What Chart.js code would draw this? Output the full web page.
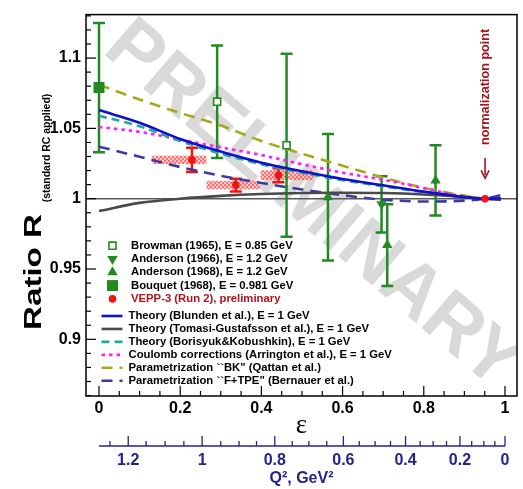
<!DOCTYPE html>
<html>
<head>
<meta charset="utf-8">
<script src="https://cdn.jsdelivr.net/npm/chart.js@4.4.1/dist/chart.umd.min.js"></script>
<style>
  html, body { margin: 0; padding: 0; background: #fff; }
</style>
</head>
<body>
<canvas id="ratio_chart" width="523" height="489"></canvas>
<script>
// ticks
var xTicks = [0, 0.2, 0.4, 0.6, 0.8, 1];
var yTicks = [0.9, 0.95, 1, 1.05, 1.1];
var q2Labels = ["1.2", "1", "0.8", "0.6", "0.4", "0.2", "0"];
var q2Eps = [0.072, 0.254, 0.433, 0.602, 0.755, 0.889, 1.0];
var q2MinorEps = [0.027, 0.116, 0.163, 0.209, 0.300, 0.345, 0.388, 0.476, 0.517, 0.561,
                  0.641, 0.680, 0.718, 0.791, 0.823, 0.856, 0.918, 0.948, 0.975];

// measurements
var browmanEps = [0.291, 0.462];
var browmanR = [1.069, 1.038];
var browmanErr = [0.040, 0.065];

var anderson66Eps = [0.696];
var anderson66R = [0.996];
var anderson66Err = [0.020];

var anderson68Eps = [0.564, 0.710, 0.829];
var anderson68R = [1.001, 0.967, 1.013];
var anderson68Err = [0.045, 0.029, 0.025];

var bouquetEps = [0];
var bouquetR = [1.079];
var bouquetErr = [0.046];

var veppEps = [0.229, 0.337, 0.442, 0.951];
var veppR = [1.0276, 1.0097, 1.0167, 1.0];
var veppErr = [0.0087, 0.0045, 0.005, 0];
var veppSysLo = [0.131, 0.265, 0.398];
var veppSysHi = [0.265, 0.397, 0.528];
var veppSys = [0.003, 0.003, 0.0035];

// theory curves
var curveEps = [0, 0.1, 0.2, 0.3, 0.4, 0.5, 0.6, 0.7, 0.8, 0.9, 0.95, 0.99];
var blunden  = [1.063, 1.054, 1.0425, 1.0335, 1.0255, 1.0195, 1.014, 1.0095, 1.005, 1.0012, 1.0, 1.0003];
var tomasi   = [0.9912, 0.997, 1.0, 1.002, 1.0033, 1.004, 1.0042, 1.004, 1.003, 1.0012, 1.0, 0.9993];
var borisyuk = [1.059, 1.0515, 1.041, 1.032, 1.0245, 1.0185, 1.0132, 1.0088, 1.0046, 1.0011, 1.0, 0.9995];
var coulomb  = [1.051, 1.0475, 1.042, 1.0365, 1.031, 1.0245, 1.0185, 1.0135, 1.0075, 1.0015, 1.0, 0.9995];
var bkQattan = [1.081, 1.0705, 1.061, 1.052, 1.041, 1.032, 1.0235, 1.015, 1.0077, 1.0022, 1.0, 0.9993];
var fTpe     = [1.037, 1.0298, 1.0225, 1.0163, 1.0112, 1.0065, 1.0025, 0.9993, 0.998, 0.9986, 1.0, 1.0025];

var GREEN = "#218a21";
var RED = "#f01414";
var NAVY = "#23238c";
var FONT = '"Liberation Sans", Arial, sans-serif';

function pts(xs, ys) {
  return xs.map(function (x, i) { return {x: x, y: ys[i]}; });
}

// hatched fill for the systematic boxes
var pc = document.createElement("canvas");
pc.width = 4; pc.height = 4;
var pctx = pc.getContext("2d");
pctx.fillStyle = "rgba(255,170,170,0.6)";
pctx.fillRect(0, 0, 4, 4);
pctx.fillStyle = "rgba(255,90,90,0.8)";
pctx.fillRect(0, 0, 2, 2);
pctx.fillRect(2, 2, 2, 2);

function marker(label, xs, ys, errs, style, extra) {
  var ds = {
    label: label,
    data: pts(xs, ys),
    errors: errs,
    showLine: false,
    pointStyle: style,
    pointRadius: 6,
    pointBackgroundColor: GREEN,
    pointBorderColor: GREEN,
    pointBorderWidth: 0,
    errColor: GREEN
  };
  for (var k in extra) ds[k] = extra[k];
  return ds;
}

function curve(label, ys, color, dash) {
  return {
    label: label,
    data: pts(curveEps, ys),
    showLine: true,
    borderColor: color,
    borderWidth: 2.6,
    borderDash: dash,
    pointRadius: 0,
    cubicInterpolationMode: "monotone",
    fill: false
  };
}

var datasets = [
  marker("Browman (1965), E = 0.85 GeV", browmanEps, browmanR, browmanErr, "rect",
    {pointRadius: 5, pointBackgroundColor: "#fff", pointBorderWidth: 1.6}),
  marker("Anderson (1966), E = 1.2 GeV", anderson66Eps, anderson66R, anderson66Err, "triangle",
    {pointRotation: 180}),
  marker("Anderson (1968), E = 1.2 GeV", anderson68Eps, anderson68R, anderson68Err, "triangle", {}),
  marker("Bouquet (1968), E = 0.981 GeV", bouquetEps, bouquetR, bouquetErr, "rect",
    {pointRadius: 7.8}),
  marker("VEPP-3 (Run 2), preliminary", veppEps, veppR, veppErr, "circle",
    {pointRadius: 3.8, pointBackgroundColor: RED, pointBorderColor: RED, errColor: RED,
     textColor: "#b3141e"}),
  curve("Theory (Blunden et al.), E = 1 GeV", blunden, "#1010cc", []),
  curve("Theory (Tomasi-Gustafsson et al.), E = 1 GeV", tomasi, "#4a4a4a", []),
  curve("Theory (Borisyuk&Kobushkin), E = 1 GeV", borisyuk, "#26a3a3", [8, 5]),
  curve("Coulomb corrections (Arrington et al.), E = 1 GeV", coulomb, "#ff1cff", [3.5, 4]),
  curve("Parametrization ``BK\" (Qattan et al.)", bkQattan, "#a8a81c", [11, 7]),
  curve("Parametrization ``F+TPE\" (Bernauer et al.)", fTpe, "#3c3ca0", [11, 7])
];

function line(ctx, x1, y1, x2, y2) {
  ctx.beginPath(); ctx.moveTo(x1, y1); ctx.lineTo(x2, y2); ctx.stroke();
}

var rootStyle = {
  id: "rootStyle",
  beforeDatasetsDraw: function (chart) {
    var ctx = chart.ctx, xs = chart.scales.x, ys = chart.scales.y, a = chart.chartArea;
    ctx.save();
    ctx.beginPath();
    ctx.rect(a.left, a.top, a.right - a.left, a.bottom - a.top);
    ctx.clip();

    // watermark
    ctx.save();
    ctx.translate(312, 206);
    ctx.rotate(40.7 * Math.PI / 180);
    ctx.font = "bold 76px " + FONT;
    ctx.fillStyle = "#d9d9d9";
    ctx.textAlign = "center";
    ctx.textBaseline = "middle";
    ctx.fillText("PRELIMINARY", 0, 0);
    ctx.restore();

    // R = 1 line
    ctx.strokeStyle = "#5a5a5a";
    ctx.lineWidth = 1.4;
    line(ctx, a.left, ys.getPixelForValue(1), a.right, ys.getPixelForValue(1));

    // systematic boxes
    ctx.fillStyle = ctx.createPattern(pc, "repeat");
    veppSys.forEach(function (s, i) {
      var x1 = xs.getPixelForValue(veppSysLo[i]), x2 = xs.getPixelForValue(veppSysHi[i]);
      var y1 = ys.getPixelForValue(veppR[i] + s), y2 = ys.getPixelForValue(veppR[i] - s);
      ctx.fillRect(x1, y1, x2 - x1, y2 - y1);
    });

    // error bars
    chart.data.datasets.forEach(function (ds) {
      if (!ds.errors) return;
      ctx.strokeStyle = ds.errColor;
      ctx.lineWidth = 2.5;
      ds.data.forEach(function (p, i) {
        var e = ds.errors[i];
        if (!e) return;
        var x = xs.getPixelForValue(p.x);
        var yt = ys.getPixelForValue(p.y + e), yb = ys.getPixelForValue(p.y - e);
        line(ctx, x, yt, x, yb);
        line(ctx, x - 6, yt, x + 6, yt);
        line(ctx, x - 6, yb, x + 6, yb);
      });
    });
    ctx.restore();
  },
  afterDraw: function (chart) {
    var ctx = chart.ctx, xs = chart.scales.x, ys = chart.scales.y, qs = chart.scales.q2;
    var a = chart.chartArea;
    var k, px, py;
    ctx.save();

    // frame
    ctx.strokeStyle = "#000";
    ctx.lineWidth = 1.5;
    ctx.strokeRect(a.left, a.top, a.right - a.left, a.bottom - a.top);

    // inward ticks
    ctx.lineWidth = 1.2;
    for (k = 0; k <= 20; k++) {
      px = xs.getPixelForValue(k * 0.05);
      line(ctx, px, a.bottom, px, a.bottom - (k % 4 === 0 ? 10 : 5));
    }
    for (k = 86; k <= 113; k++) {
      py = ys.getPixelForValue(k / 100);
      line(ctx, a.left, py, a.left + (k % 5 === 0 ? 10 : 5), py);
    }

    // Q2 axis
    var qy = qs.top;
    ctx.strokeStyle = NAVY;
    ctx.lineWidth = 1.5;
    line(ctx, qs.getPixelForValue(0), qy, qs.getPixelForValue(1), qy);
    ctx.lineWidth = 1.3;
    q2Eps.forEach(function (e) {
      px = qs.getPixelForValue(e);
      line(ctx, px, qy, px, qy - 10);
    });
    q2MinorEps.forEach(function (e) {
      px = qs.getPixelForValue(e);
      line(ctx, px, qy, px, qy - 5);
    });

    // y titles
    ctx.fillStyle = "#000";
    ctx.textAlign = "center";
    ctx.textBaseline = "middle";
    ctx.save();
    ctx.translate(34, 272);
    ctx.rotate(-Math.PI / 2);
    ctx.scale(1.38, 1);
    ctx.font = "bold 24px " + FONT;
    ctx.fillText("Ratio R", 0, 0);
    ctx.restore();
    ctx.save();
    ctx.translate(46.5, 148);
    ctx.rotate(-Math.PI / 2);
    ctx.scale(0.95, 1);
    ctx.font = "bold 11px " + FONT;
    ctx.fillText("(standard RC applied)", 0, 0);
    ctx.restore();

    // normalization point
    var nx = xs.getPixelForValue(veppEps[3]);
    var ay1 = ys.getPixelForValue(1.029), ay2 = ys.getPixelForValue(1.0145);
    ctx.strokeStyle = "#a31420";
    ctx.fillStyle = "#a31420";
    ctx.lineWidth = 1.6;
    line(ctx, nx, ay1, nx, ay2 - 3);
    ctx.beginPath();
    ctx.moveTo(nx - 4, ay2 - 8);
    ctx.lineTo(nx, ay2);
    ctx.lineTo(nx + 4, ay2 - 8);
    ctx.stroke();
    ctx.save();
    ctx.translate(nx, ys.getPixelForValue(1.0795));
    ctx.rotate(-Math.PI / 2);
    ctx.font = "bold 12.6px " + FONT;
    ctx.fillText("normalization point", 0, 0);
    ctx.restore();

    // legend
    ctx.font = "bold 11.3px " + FONT;
    ctx.textAlign = "left";
    var mi = 0, ci = 0;
    chart.data.datasets.forEach(function (ds) {
      var y;
      if (ds.errors) {
        y = 245.7 + mi * 13.3;
        mi++;
        ctx.fillStyle = ds.pointBackgroundColor;
        ctx.strokeStyle = ds.pointBorderColor;
        ctx.lineWidth = ds.pointBorderWidth;
        ctx.setLineDash([]);
        Chart.helpers.drawPoint(ctx, {
          pointStyle: ds.pointStyle,
          radius: ds.pointRadius,
          rotation: ds.pointRotation || 0,
          borderWidth: ds.pointBorderWidth
        }, 112.5, y);
        ctx.fillStyle = ds.textColor || "#000";
        ctx.fillText(ds.label, 131, y);
      } else {
        y = 316 + ci * 12.95;
        ci++;
        ctx.strokeStyle = ds.borderColor;
        ctx.lineWidth = 2.6;
        ctx.setLineDash(ds.borderDash);
        line(ctx, 101.5, y, 122.5, y);
        ctx.setLineDash([]);
        ctx.fillStyle = "#000";
        ctx.fillText(ds.label, 128.5, y);
      }
    });
    ctx.restore();
  }
};

var tickFont = {family: FONT, size: 16, weight: "bold"};

var ratio_chart = new Chart(document.getElementById("ratio_chart").getContext("2d"), {
  type: "scatter",
  data: {datasets: datasets},
  plugins: [rootStyle],
  options: {
    responsive: false,
    animation: false,
    layout: {autoPadding: false, padding: {left: 0, right: 6, top: 5.5, bottom: 0}},
    plugins: {legend: {display: false}, tooltip: {enabled: false}},
    scales: {
      x: {
        type: "linear",
        position: "bottom",
        weight: 0,
        min: -0.032,
        max: 1.0296,
        grid: {display: false, drawTicks: false},
        border: {display: false},
        afterBuildTicks: function (s) { s.ticks = xTicks.map(function (v) { return {value: v}; }); },
        afterFit: function (s) { s.height = 50; },
        ticks: {
          font: tickFont, color: "#000", padding: 3, autoSkip: false, maxRotation: 0,
          callback: function (v) { return String(v); }
        },
        title: {
          display: true, text: "ε", color: "#000",
          font: {family: '"Liberation Serif", "Times New Roman", serif', size: 27, lineHeight: 1},
          padding: {top: 0, bottom: 6.5}
        }
      },
      q2: {
        type: "linear",
        position: "bottom",
        weight: 1,
        min: -0.032,
        max: 1.0296,
        grid: {display: false, drawTicks: false},
        border: {display: false},
        afterBuildTicks: function (s) { s.ticks = q2Eps.map(function (v) { return {value: v}; }); },
        afterFit: function (s) { s.height = 43; },
        ticks: {
          font: tickFont, color: NAVY, padding: 5, autoSkip: false, maxRotation: 0,
          callback: function (v, i) { return q2Labels[i]; }
        },
        title: {
          display: true, text: "Q², GeV²", color: NAVY,
          font: {family: FONT, size: 16, weight: "bold", lineHeight: 1},
          padding: {top: 0, bottom: 2}
        }
      },
      y: {
        type: "linear",
        position: "left",
        min: 0.8597,
        max: 1.1309,
        grid: {display: false, drawTicks: false},
        border: {display: false},
        afterBuildTicks: function (s) { s.ticks = yTicks.map(function (v) { return {value: v}; }); },
        afterFit: function (s) { s.width = 86; },
        ticks: {
          font: tickFont, color: "#000", padding: 5,
          callback: function (v) { return String(v); }
        }
      }
    }
  }
});
</script>
</body>
</html>
